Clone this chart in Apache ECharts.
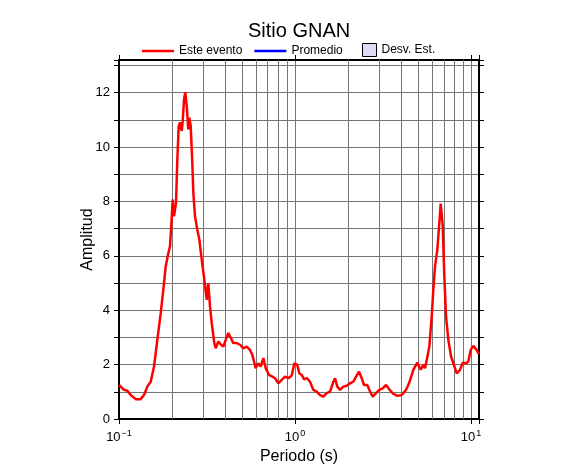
<!DOCTYPE html>
<html><head><meta charset="utf-8">
<script src="https://cdn.jsdelivr.net/npm/echarts@6/dist/echarts.min.js"></script>
<style>html,body{margin:0;padding:0;background:#fff}#c{width:586px;height:475px}</style>
</head><body><div id="c"></div>
<script>
// Period (s) of each point of "Este evento"
const periods = [
  0.1, 0.1068, 0.1115, 0.1165, 0.1244, 0.1328, 0.1387, 0.1448, 0.1514, 0.1581,
  0.1651, 0.1726, 0.1785, 0.1842, 0.1898, 0.1949, 0.1993, 0.2019, 0.2054, 0.2108,
  0.2145, 0.2184, 0.2222, 0.2272, 0.2301, 0.2341, 0.2381, 0.2425, 0.2476, 0.2509,
  0.2555, 0.2609, 0.2644, 0.2703, 0.2786, 0.2860, 0.2951, 0.3053, 0.3150, 0.3217,
  0.3289, 0.3363, 0.3479, 0.3543, 0.3667, 0.3799, 0.3915, 0.4040, 0.4178, 0.4329,
  0.4460, 0.4664, 0.4870, 0.5085, 0.5315, 0.5549, 0.5719, 0.5979, 0.6186, 0.6383,
  0.6605, 0.6817, 0.7118, 0.7431, 0.7700, 0.8038, 0.8403, 0.8775, 0.9161, 0.9578,
  0.9909, 1.031, 1.058, 1.092, 1.125, 1.166, 1.217, 1.270, 1.328, 1.387,
  1.448, 1.514, 1.581, 1.651, 1.688, 1.739, 1.802, 1.881, 1.967, 2.053,
  2.144, 2.222, 2.311, 2.393, 2.466, 2.575, 2.668, 2.764, 2.886, 3.013,
  3.150, 3.289, 3.434, 3.619, 3.814, 4.040, 4.273, 4.460, 4.700, 4.954,
  5.179, 5.358, 5.478, 5.602, 5.796, 5.980, 6.107, 6.244, 6.435, 6.606,
  6.728, 6.906, 7.053, 7.211, 7.431, 7.700, 7.934, 8.294, 8.659, 8.972,
  9.367, 9.654, 9.961, 10.31, 10.68, 11.1
];
// Amplitude of "Este evento"
const amplitudes = [
  1.25, 1.07, 1.04, 0.88, 0.73, 0.73, 0.88, 1.19, 1.37, 1.93,
  2.91, 3.89, 4.75, 5.61, 6.04, 6.35, 7.40, 8.07, 7.45, 7.95,
  9.54, 10.77, 10.90, 10.59, 10.95, 11.75, 12.02, 11.50, 10.65, 11.08,
  10.77, 9.42, 8.32, 7.45, 6.96, 6.60, 5.86, 5.12, 4.38, 5.00,
  4.14, 3.53, 2.79, 2.60, 2.85, 2.73, 2.66, 2.91, 3.16, 2.97,
  2.79, 2.79, 2.73, 2.60, 2.66, 2.54, 2.36, 1.87, 2.05, 1.93,
  2.24, 1.87, 1.62, 1.56, 1.50, 1.31, 1.44, 1.56, 1.50, 1.60,
  2.05, 1.99, 1.68, 1.62, 1.46, 1.50, 1.37, 1.07, 1.01, 0.88,
  0.82, 0.95, 1.01, 1.37, 1.50, 1.19, 1.07, 1.19, 1.22, 1.31,
  1.37, 1.56, 1.74, 1.50, 1.25, 1.25, 1.01, 0.82, 0.95, 1.07,
  1.13, 1.25, 1.09, 0.92, 0.85, 0.88, 1.07, 1.34, 1.81, 2.07,
  1.81, 1.99, 1.87, 2.17, 2.66, 3.77, 4.75, 5.61, 6.23, 7.21,
  7.92, 7.09, 5.24, 3.77, 2.91, 2.30, 2.05, 1.68, 1.81, 2.07,
  2.05, 2.11, 2.54, 2.69, 2.57, 2.39
];
// Promedio / Desv. Est. have no drawn data in the reference
const promedio = [];
const desvEst = [];
// Minor log gridlines (periods)
const minorGridPeriods = [0.2,0.3,0.4,0.5,0.6,0.7,0.8,0.9,2,3,4,5,6,7,8,9];
const xMin = 0.1, xMax = 11.1;
const yMin = 0, yMax = 13.2;

const FONT = 'Liberation Sans, Arial, Helvetica, sans-serif';
const chart = echarts.init(document.getElementById('c'));
const gridColor = '#747474';

function xLabel(v) {
  const e = Math.log10(v);
  const r = Math.round(e);
  if (Math.abs(e - r) > 0.01) return '';
  return '{b|10}{s|' + (r < 0 ? '\u2212' + (-r) : r) + '}';
}

chart.setOption({
  animation: false,
  backgroundColor: '#fff',
  title: {
    text: 'Sitio GNAN', left: 248, top: 21, padding: 0,
    textStyle: { fontFamily: FONT, fontSize: 20, fontWeight: 'normal', color: '#000' }
  },
  legend: [{
    data: [
      { name: 'Este evento', icon: 'rect', itemStyle: { color: '#ff0000' } },
      { name: 'Promedio', icon: 'rect', itemStyle: { color: '#0000ff' } }
    ],
    left: 142, top: 45, padding: 0, itemWidth: 32, itemHeight: 2.5, itemGap: 12,
    textStyle: { fontFamily: FONT, fontSize: 12, color: '#000' }
  }, {
    data: [{ name: 'Desv. Est.', icon: 'rect', itemStyle: { color: '#dcdcf5', borderColor: '#000', borderWidth: 1 } }],
    left: 362, top: 43, padding: 0, itemWidth: 14, itemHeight: 13,
    textStyle: { fontFamily: FONT, fontSize: 12, color: '#000' }
  }],
  grid: { left: 119, right: 107, top: 60, bottom: 56, containLabel: false },
  xAxis: [{
    type: 'log', logBase: 10, min: xMin, max: xMax, position: 'bottom',
    name: 'Periodo (s)', nameLocation: 'middle', nameGap: 30, nameMoveOverlap: false,
    nameTextStyle: { fontFamily: FONT, fontSize: 16, color: '#000' },
    axisLine: { show: true, onZero: false, lineStyle: { color: '#000', width: 2 } },
    axisTick: { show: true, length: 5, lineStyle: { color: '#000', width: 1 } },
    axisLabel: {
      formatter: xLabel, margin: 9, color: '#000',
      rich: {
        b: { fontFamily: FONT, fontSize: 13, color: '#000', verticalAlign: 'bottom', lineHeight: 16 },
        s: { fontFamily: FONT, fontSize: 9, color: '#000', verticalAlign: 'bottom', lineHeight: 16, padding: [0, 0, 6, 1] }
      }
    },
    splitLine: { show: true, lineStyle: { color: gridColor, width: 1 } }
  }, {
    type: 'log', logBase: 10, min: xMin, max: xMax, position: 'top',
    axisLine: { show: true, onZero: false, lineStyle: { color: '#000', width: 2 } },
    axisTick: { show: true, length: 5, lineStyle: { color: '#000', width: 1 } },
    axisLabel: { show: false },
    splitLine: { show: false }
  }],
  yAxis: [{
    type: 'value', min: yMin, max: yMax, interval: 1, position: 'left',
    name: 'Amplitud', nameLocation: 'middle', nameGap: 23, nameMoveOverlap: false,
    nameTextStyle: { fontFamily: FONT, fontSize: 16, color: '#000' },
    axisLine: { show: true, onZero: false, lineStyle: { color: '#000', width: 2 } },
    axisTick: { show: true, length: 5, lineStyle: { color: '#000', width: 1 } },
    axisLabel: {
      margin: 9, fontFamily: FONT, fontSize: 13, color: '#000',
      formatter: v => (Math.abs(v - Math.round(v)) < 1e-6 && Math.round(v) % 2 === 0 && v <= 12) ? String(Math.round(v)) : ''
    },
    splitLine: { show: true, lineStyle: { color: gridColor, width: 1 } }
  }, {
    type: 'value', min: yMin, max: yMax, interval: 1, position: 'right',
    axisLine: { show: true, onZero: false, lineStyle: { color: '#000', width: 2 } },
    axisTick: { show: true, length: 5, lineStyle: { color: '#000', width: 1 } },
    axisLabel: { show: false },
    splitLine: { show: false }
  }],
  series: [{
    name: 'gridlines', type: 'line', data: [], xAxisIndex: 0, yAxisIndex: 0, silent: true,
    markLine: {
      silent: true, symbol: ['none', 'none'], animation: false, z: 1,
      label: { show: false },
      lineStyle: { color: gridColor, width: 1, type: 'solid' },
      emphasis: { disabled: true },
      data: minorGridPeriods.map(p => ({ xAxis: p }))
    }
  }, {
    name: 'Este evento', type: 'line', xAxisIndex: 0, yAxisIndex: 0, z: 5,
    data: periods.map((p, i) => [p, amplitudes[i]]),
    showSymbol: false, symbol: 'none', smooth: false,
    lineStyle: { color: '#ff0000', width: 2.5 }, itemStyle: { color: '#ff0000' }
  }, {
    name: 'Promedio', type: 'line', data: promedio, symbol: 'none',
    lineStyle: { color: '#0000ff', width: 2.5 }, itemStyle: { color: '#0000ff' }
  }, {
    name: 'Desv. Est.', type: 'line', data: desvEst, symbol: 'none',
    lineStyle: { color: '#000', width: 1 }, itemStyle: { color: '#dcdcf5' },
    areaStyle: { color: '#dcdcf5' }
  }]
});
</script></body></html>
